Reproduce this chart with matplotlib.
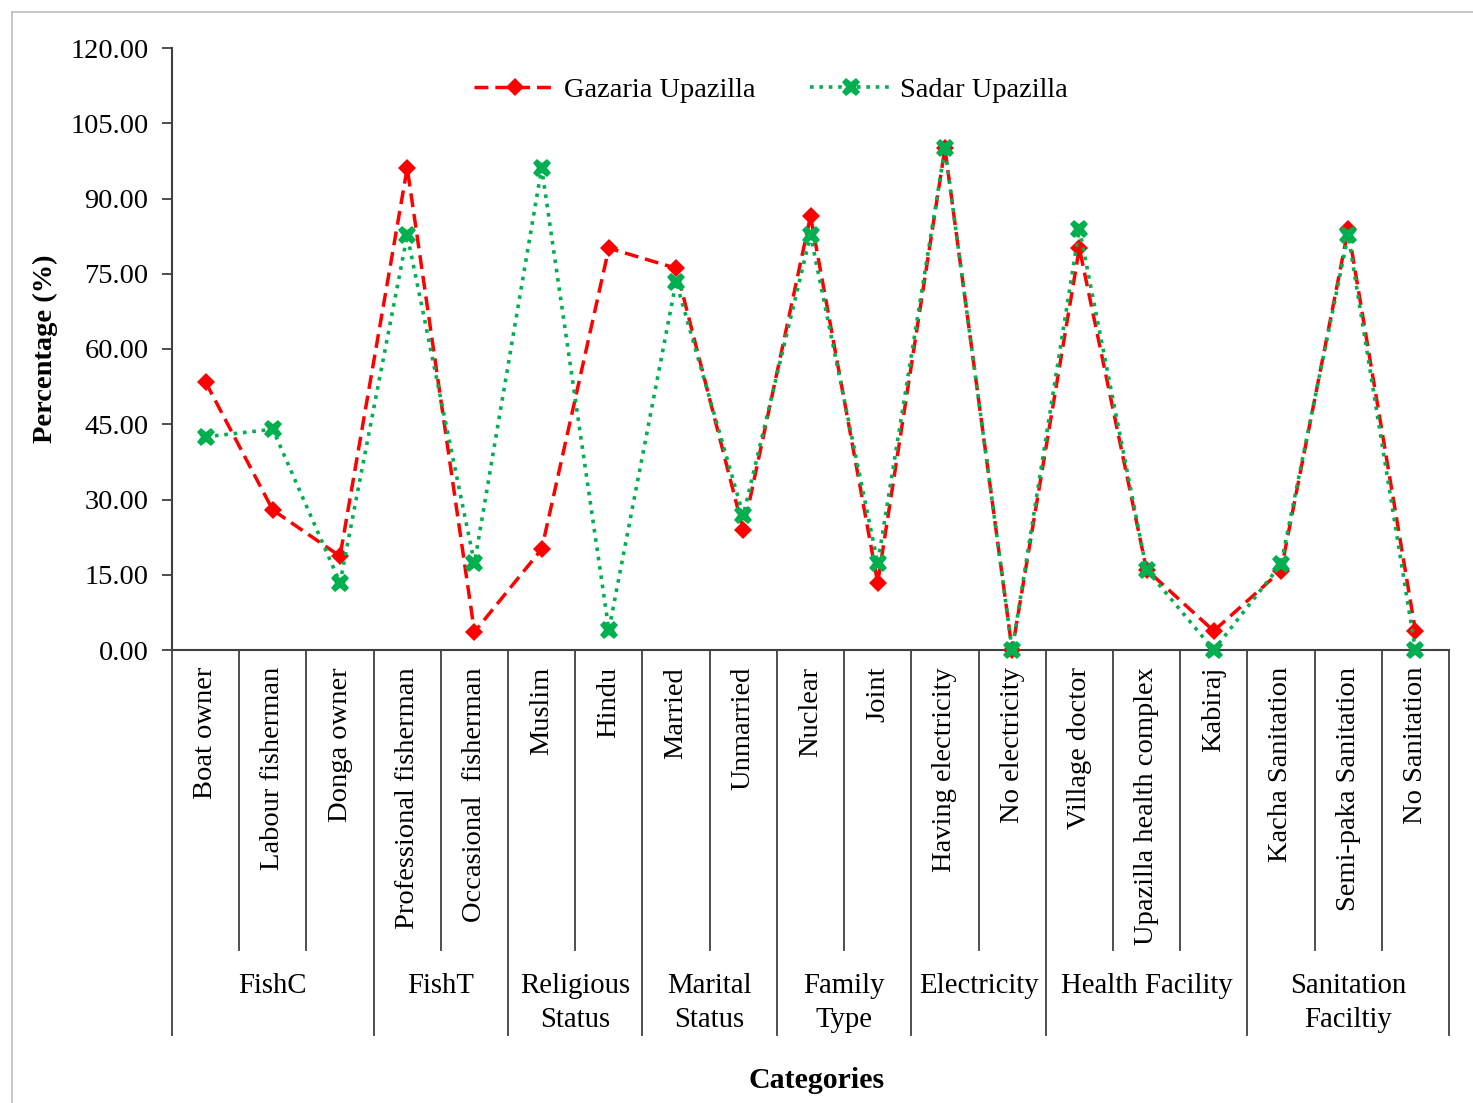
import matplotlib
matplotlib.use("Agg")
import matplotlib.pyplot as plt
from matplotlib.lines import Line2D
from matplotlib.ticker import FixedLocator, FormatStrFormatter

plt.rcParams['font.family'] = ['Liberation Serif', 'DejaVu Serif']

# Categories and their groups
items = ["Boat owner", "Labour fisherman", "Donga owner",
         "Professional fisherman", "Occasional  fisherman",
         "Muslim", "Hindu",
         "Married", "Unmarried",
         "Nuclear", "Joint",
         "Having electricity", "No electricity",
         "Village doctor", "Upazilla health complex", "Kabiraj",
         "Kacha Sanitation", "Semi-paka Sanitation", "No Sanitation"]
groups = ["FishC", "FishT", "Religious\nStatus", "Marital\nStatus",
          "Family\nType", "Electricity", "Health Facility", "Sanitation\nFaciltiy"]
group_sizes = [3, 2, 2, 2, 2, 2, 3, 3]

# Percentages per category
gazaria = [53.4, 27.9, 18.7, 96.1, 3.6, 20.1, 80.1, 76.1, 23.9, 86.5, 13.4,
           100.0, 0.0, 80.1, 16.0, 3.8, 15.8, 83.9, 3.8]
sadar = [42.5, 44.0, 13.4, 82.7, 17.3, 96.1, 4.0, 73.4, 26.9, 82.7, 17.3,
         100.0, 0.0, 84.0, 16.0, 0.0, 17.1, 82.7, 0.0]

yticks = [0, 15, 30, 45, 60, 75, 90, 105, 120]

W, H = 1473, 1103
fig = plt.figure(figsize=(W / 100, H / 100), dpi=100)
ax = fig.add_axes([172 / W, 1 - 650 / H, (1449 - 172) / W, (650 - 48) / H])

x = list(range(len(items)))
ax.plot(x, gazaria, color='#FF0000', lw=2.5, linestyle=(0, (4, 2)),
        marker='D', markersize=9, markeredgewidth=0, label='Gazaria Upazilla',
        clip_on=False, zorder=3)
ax.plot(x, sadar, color='#00B050', lw=2.6, linestyle=(0, (1, 1.6)),
        marker='X', markersize=13, markeredgewidth=0, label='Sadar Upazilla',
        clip_on=False, zorder=4)

ax.set_xlim(-0.5, len(items) - 0.5)
ax.set_ylim(0, 120)
ax.yaxis.set_major_locator(FixedLocator(yticks))
ax.yaxis.set_major_formatter(FormatStrFormatter('%.2f'))
ax.tick_params(axis='y', direction='out', length=7, width=1.3, color='#404040',
               labelsize=20.5, pad=10)
ax.set_xticks([])
for s in ['top', 'right']:
    ax.spines[s].set_visible(False)
for s in ['left', 'bottom']:
    ax.spines[s].set_color('#404040')
    ax.spines[s].set_linewidth(1.5)

trans = ax.get_xaxis_transform()
px = 1 / 602.0  # one pixel in axes-fraction units (vertical)

# Category labels
for i, name in enumerate(items):
    ax.text(i, -17 * px, name, rotation=90, ha='center', va='top',
            fontsize=20.5, transform=trans)

# Separators below the axis
bounds = [-0.5]
for n in group_sizes:
    bounds.append(bounds[-1] + n)
group_edges = set(bounds)
for b in range(len(items) + 1):
    xb = b - 0.5
    bottom = -385 * px if xb in group_edges else -300 * px
    ax.add_line(Line2D([xb, xb], [0, bottom], transform=trans, color='#404040',
                       lw=1.3, clip_on=False))

# Group labels
for g, lo, hi in zip(groups, bounds[:-1], bounds[1:]):
    ax.text((lo + hi) / 2, -(973 - 650) * px, g, ha='center', va='top',
            fontsize=20.7, linespacing=1.38, transform=trans)

ax.text(0.505, -(1080 - 650) * px, 'Categories', ha='center', va='center',
        fontsize=21.5, fontweight='bold', transform=ax.transAxes)
ax.text(-(172 - 45) / 1277, (650 - 349) * px, 'Percentage (%)', rotation=90,
        ha='center', va='center', fontsize=20.5, fontweight='bold',
        transform=ax.transAxes)

ax.legend(loc='center', bbox_to_anchor=(0.469, (650 - 90) * px), ncol=2,
          frameon=False, fontsize=20.4, handlelength=2.9, handletextpad=0.3,
          columnspacing=1.9)

# Light outer frame
fig.add_artist(Line2D([12 / W, 1], [1 - 11.5 / H, 1 - 11.5 / H],
                      transform=fig.transFigure, color='#BFBFBF', lw=1.2))
fig.add_artist(Line2D([12 / W, 12 / W], [0, 1 - 11.5 / H],
                      transform=fig.transFigure, color='#BFBFBF', lw=1.2))

fig.savefig('out.png', dpi=100, facecolor='white')
